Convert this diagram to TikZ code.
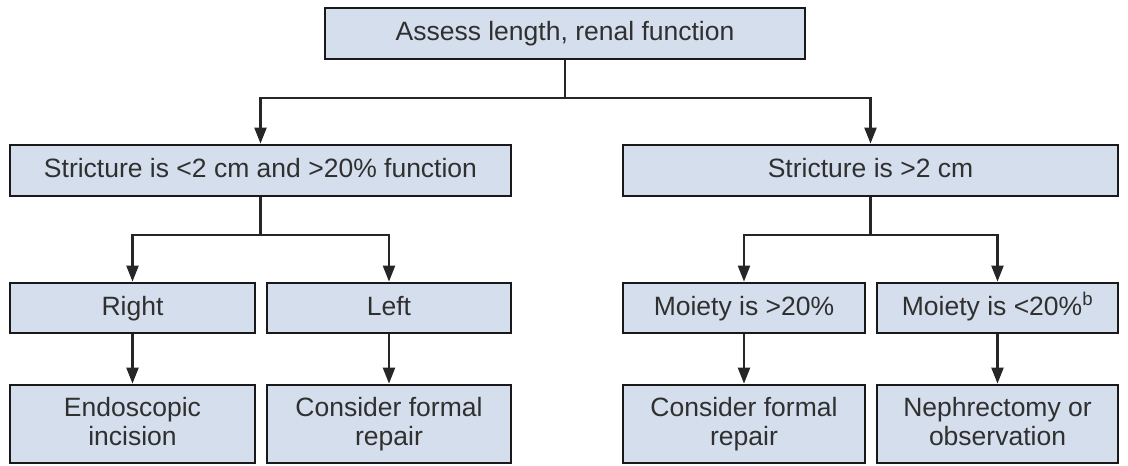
\documentclass[tikz,border=0pt]{standalone}
\usepackage{fontspec}
\setmainfont{Liberation Sans}
\usetikzlibrary{arrows.meta}
\definecolor{boxfill}{HTML}{D4DEEC}
\definecolor{txt}{HTML}{303030}
\newcommand{\twolines}[2]{\rule{0pt}{19.5pt}#1\\#2\rule[-5.5pt]{0pt}{5.5pt}}
\tikzset{
  box/.style={draw=black!90, line width=2.8pt, fill=boxfill, text=txt, align=center,
    inner sep=0pt, font=\fontsize{26.5}{29}\selectfont},
  onebox/.style={box, text height=19.5pt, text depth=5.5pt},
  conn/.style={line width=2.2pt, draw=black!85},
  arr/.style={conn, -{Triangle[width=12pt,length=16pt]}}
}
\begin{document}
\begin{tikzpicture}[x=1pt,y=-1pt]
\useasboundingbox (0,0) rectangle (1128,466);
\node[onebox, minimum width=480pt, minimum height=51pt] (top) at (565,33.5) {Assess length, renal function};
\node[onebox, minimum width=501pt, minimum height=51pt] (s1) at (260.5,170.5) {Stricture is <2 cm and >20\% function};
\node[onebox, minimum width=495pt, minimum height=51pt] (s2) at (870.5,170.5) {Stricture is >2 cm};
\node[onebox, minimum width=245pt, minimum height=50pt] (r) at (132.5,308) {Right};
\node[onebox, minimum width=244pt, minimum height=50pt] (l) at (389,308) {Left};
\node[onebox, minimum width=242pt, minimum height=50pt] (m1) at (744,308) {Moiety is >20\%};
\node[onebox, minimum width=241pt, minimum height=50pt] (m2) at (997.5,308) {Moiety is <20\%\textsuperscript{b}};
\node[box, minimum width=245pt, minimum height=78pt] (e1) at (132.5,424) {\twolines{Endoscopic}{incision}};
\node[box, minimum width=244pt, minimum height=78pt] (e2) at (389,424) {\twolines{Consider formal}{repair}};
\node[box, minimum width=242pt, minimum height=78pt] (e3) at (744,424) {\twolines{Consider formal}{repair}};
\node[box, minimum width=241pt, minimum height=78pt] (e4) at (997.5,424) {\twolines{Nephrectomy or}{observation}};
\coordinate (j0) at (565,98);
\coordinate (j1) at (260.5,235);
\coordinate (j2) at (870.5,235);
\draw[conn] (top.south) -- (j0);
\draw[arr] (j0) -| (s1.north);
\draw[arr] (j0) -| (s2.north);
\draw[conn] (s1.south) -- (j1);
\draw[arr] (j1) -| (r.north);
\draw[arr] (j1) -| (l.north);
\draw[conn] (s2.south) -- (j2);
\draw[arr] (j2) -| (m1.north);
\draw[arr] (j2) -| (m2.north);
\draw[arr] (r.south) -- (e1.north);
\draw[arr] (l.south) -- (e2.north);
\draw[arr] (m1.south) -- (e3.north);
\draw[arr] (m2.south) -- (e4.north);
\end{tikzpicture}
\end{document}
